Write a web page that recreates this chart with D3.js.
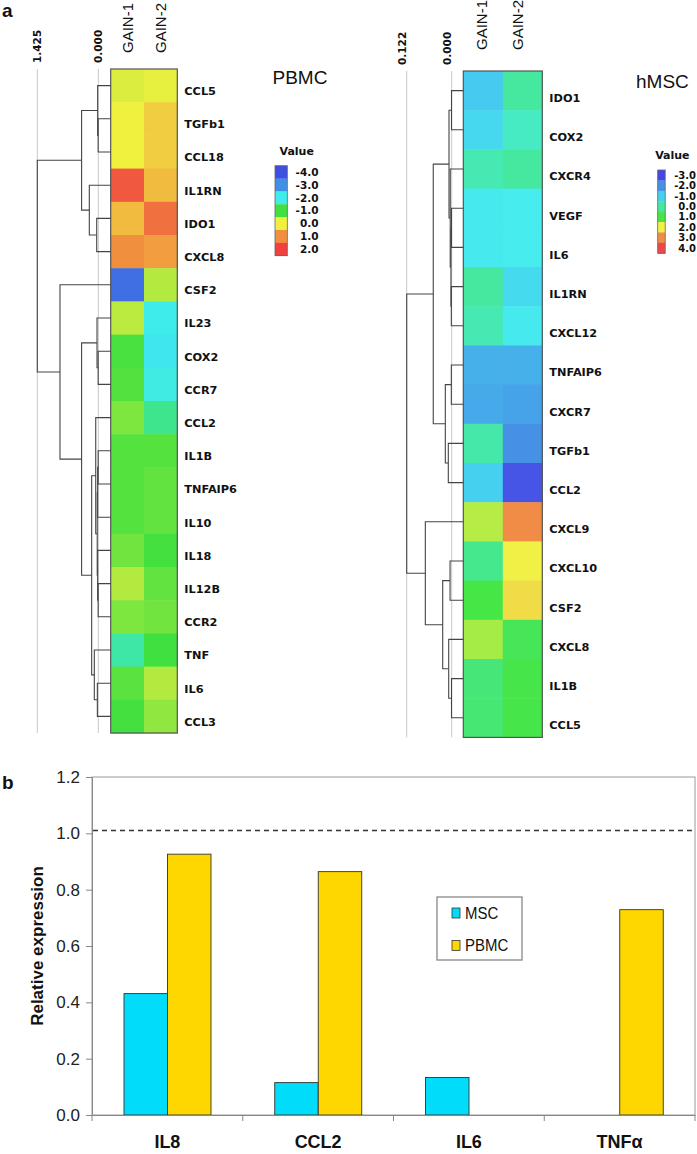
<!DOCTYPE html>
<html><head><meta charset="utf-8">
<script src="https://cdn.jsdelivr.net/npm/d3@7"></script>
<style>body{margin:0;background:#fff} svg{display:block}</style>
</head><body>
<svg id="c" width="697" height="1154"></svg>
<script>
// ---------------- DATA ----------------
const samples = ["GAIN-1", "GAIN-2"];

const pbmcGenes = ["CCL5","TGFb1","CCL18","IL1RN","IDO1","CXCL8","CSF2","IL23","COX2","CCR7","CCL2","IL1B","TNFAIP6","IL10","IL18","IL12B","CCR2","TNF","IL6","CCL3"];
const pbmcGain1 = [-0.12, 0.0, 0.0, 1.7, 0.55, 1.0, -3.5, -0.3, -0.95, -0.9, -0.65, -0.88, -0.88, -0.88, -0.72, -0.35, -0.65, -1.6, -0.85, -0.97];
const pbmcGain2 = [-0.05, 0.35, 0.35, 0.55, 1.4, 0.85, -0.35, -2.0, -2.05, -1.95, -1.45, -0.88, -0.8, -0.8, -0.97, -0.8, -0.72, -1.0, -0.35, -0.55];
const pbmcLegendValues = [-4, -3, -2, -1, 0, 1, 2];
const pbmcDendroTicks = [1.425, 0];
const pbmcTree = [1.425,
  [0.39,
    [0.015, "CCL5", [0.003, "TGFb1", "CCL18"]],
    [0.21, "IL1RN", [0.037, "IDO1", "CXCL8"]]],
  [0.895, "CSF2",
    [0.39,
      [0.03, "IL23", [0.003, "COX2", "CCR7"]],
      [0.155,
        [0.06, "CCL2",
          [0.025,
            [0.015, [0.003, "IL1B", "TNFAIP6"], "IL10"],
            [0.015, "IL18", [0.003, "IL12B", "CCR2"]]]],
        [0.093, "TNF", [0.022, "IL6", "CCL3"]]]]]];

const hmscGenes = ["IDO1","COX2","CXCR4","VEGF","IL6","IL1RN","CXCL12","TNFAIP6","CXCR7","TGFb1","CCL2","CXCL9","CXCL10","CSF2","CXCL8","IL1B","CCL5"];
const hmscGain1 = [-1.1, -0.85, -0.1, -0.5, -0.5, 0.0, -0.1, -1.5, -1.6, -0.05, -1.0, 1.65, 0.2, 1.0, 1.55, 0.45, 0.5];
const hmscGain2 = [0.0, -0.2, 0.0, -0.45, -0.45, -0.8, -0.5, -1.5, -1.7, -2.0, -2.8, 3.0, 2.0, 2.2, 0.8, 0.95, 0.95];
const hmscLegendValues = [-3, -2, -1, 0, 1, 2, 3, 4];
const hmscDendroTicks = [0.122, 0];
const hmscTree = [0.122,
  [0.05,
    [0.0073, [0.0005, "IDO1", "COX2"],
      [0.004, "CXCR4", [0.002, [0.0005, "VEGF", "IL6"], [0.001, "IL1RN", "CXCL12"]]]],
    [0.0173, [0.001, "TNFAIP6", "CXCR7"], [0.0092, "TGFb1", "CCL2"]]],
  [0.0715, "CXCL9",
    [0.0244, [0.0045, "CXCL10", "CSF2"], [0.0081, "CXCL8", [0.0005, "IL1B", "CCL5"]]]]];

const barCategories = ["IL8", "CCL2", "IL6", "TNFα"];
const barSeries = ["MSC", "PBMC"];
const mscValues = [0.431, 0.115, 0.133, null];
const pbmcValues = [0.926, 0.864, null, 0.729];
const yTicks = [0, 0.2, 0.4, 0.6, 0.8, 1.0, 1.2];
const referenceLine = 1.01;

// ---------------- DRAWING ----------------
const svg = d3.select("#c");
const boldFont = "'DejaVu Sans', Verdana, sans-serif";
const sansFont = "'Liberation Sans', Arial, sans-serif";
const loc = d3.formatLocale({ decimal: ".", thousands: ",", grouping: [3], currency: ["", ""], minus: "-" });
const f1 = loc.format(".1f");
const f3 = loc.format(".3f");

function toHier(node) {
  return Array.isArray(node) ? { h: node[0], children: [toHier(node[1]), toHier(node[2])] } : { name: node };
}

function drawPanel(cfg) {
  const g = svg.append("g");
  const y = d3.scaleBand().domain(cfg.genes).range([cfg.top, cfg.bottom]);
  const x = d3.scaleBand().domain(samples).range([cfg.left, cfg.right]);
  const color = d3.scaleLinear().domain(cfg.stops).range(cfg.colors).interpolate(d3.interpolateRgb).clamp(true);
  const hx = d3.scaleLinear().domain([0, cfg.treeMax]).range([cfg.zeroX, cfg.maxX]);

  const cells = [];
  cfg.genes.forEach((gene, i) => {
    cells.push({ gene, s: samples[0], v: cfg.g1[i] });
    cells.push({ gene, s: samples[1], v: cfg.g2[i] });
  });
  g.selectAll("rect.cell").data(cells).join("rect")
    .attr("x", d => x(d.s)).attr("y", d => y(d.gene))
    .attr("width", x.bandwidth() + 0.5).attr("height", y.bandwidth() + 0.5)
    .attr("fill", d => color(d.v));
  g.append("rect").attr("x", cfg.left).attr("y", cfg.top)
    .attr("width", cfg.right - cfg.left).attr("height", cfg.bottom - cfg.top)
    .attr("fill", "none").attr("stroke", "#555").attr("stroke-width", 1.2);

  // row labels
  g.selectAll("text.row").data(cfg.genes).join("text")
    .attr("x", cfg.right + 7).attr("y", d => y(d) + y.bandwidth() * (0.5 + cfg.labelShift))
    .attr("dy", "0.35em").attr("font-family", boldFont).attr("font-weight", "bold")
    .attr("font-size", 11.3).attr("fill", "#111").text(d => d);

  // column labels
  g.selectAll("text.col").data(samples).join("text")
    .attr("transform", d => `translate(${x(d) + x.bandwidth() / 2 + cfg.colShift[samples.indexOf(d)]},${cfg.colLabelY}) rotate(-90)`)
    .attr("dy", "0.35em").attr("font-family", sansFont).attr("font-size", 15).attr("fill", "#111").text(d => d);

  // dendrogram reference lines
  g.selectAll("line.ref").data(cfg.ticks).join("line")
    .attr("x1", d => hx(d)).attr("x2", d => hx(d))
    .attr("y1", cfg.top).attr("y2", cfg.bottom)
    .attr("stroke", "#c8c8c8").attr("stroke-width", 1);
  g.selectAll("text.tick").data(cfg.ticks).join("text")
    .attr("transform", d => `translate(${hx(d) + cfg.tickShift},${cfg.tickLabelY}) rotate(-90)`)
    .attr("dy", "0.35em").attr("font-family", boldFont).attr("font-weight", "bold")
    .attr("font-size", 10.5).attr("fill", "#111").text(d => f3(d));

  // dendrogram
  const root = d3.hierarchy(toHier(cfg.tree));
  root.eachAfter(n => {
    if (!n.children) { n.py = y(n.data.name) + y.bandwidth() / 2; n.px = cfg.left; }
    else { n.py = d3.mean(n.children, c => c.py); n.px = hx(n.data.h); }
  });
  const links = root.descendants().filter(n => n.children);
  g.selectAll("path.dend").data(links).join("path")
    .attr("d", n => {
      const [a, b] = n.children;
      return `M${a.px},${a.py}H${n.px}V${b.py}H${b.px}`;
    })
    .attr("fill", "none").attr("stroke", "#444").attr("stroke-width", 1.1);

  // title
  g.append("text").attr("x", cfg.titleX).attr("y", cfg.titleY)
    .attr("font-family", sansFont).attr("font-size", 19).attr("fill", "#111").text(cfg.title);

  // legend
  const lg = g.append("g");
  lg.append("text").attr("x", cfg.legX + cfg.legTitleDx).attr("y", cfg.legY - 11)
    .attr("font-family", boldFont).attr("font-weight", "bold").attr("font-size", 11)
    .attr("fill", "#111").text("Value");
  const ly = d3.scaleBand().domain(cfg.legend).range([cfg.legY, cfg.legY + cfg.legH]);
  lg.selectAll("rect").data(cfg.legend).join("rect")
    .attr("x", cfg.legX).attr("y", d => ly(d)).attr("width", cfg.legW).attr("height", ly.bandwidth() + 0.3)
    .attr("fill", d => color(d));
  lg.append("rect").attr("x", cfg.legX).attr("y", cfg.legY).attr("width", cfg.legW).attr("height", cfg.legH)
    .attr("fill", "none").attr("stroke", "#666").attr("stroke-width", 0.8);
  lg.selectAll("text.lv").data(cfg.legend).join("text")
    .attr("x", cfg.legLabelX).attr("y", d => ly(d) + ly.bandwidth() / 2).attr("dy", "0.35em")
    .attr("text-anchor", "end").attr("font-family", boldFont).attr("font-weight", "bold")
    .attr("font-size", cfg.legFont).attr("fill", "#111").text(d => f1(d));
}

drawPanel({
  genes: pbmcGenes, g1: pbmcGain1, g2: pbmcGain2, tree: pbmcTree, ticks: pbmcDendroTicks, treeMax: 1.425,
  top: 69, bottom: 733, left: 110.7, right: 177.3, zeroX: 98.3, maxX: 37.3,
  stops: [-4, -3, -2, -1, 0, 1, 2],
  colors: ["#3f4fe0", "#3f8fe6", "#3fecec", "#3fe03f", "#f0f03f", "#f0903f", "#f0403f"],
  legend: pbmcLegendValues, legX: 275, legY: 165.7, legW: 12.3, legH: 90, legLabelX: 318.5, legTitleDx: 4.5, legFont: 10.5,
  labelShift: 0.165, colLabelY: 53, colShift: [0, 0], tickLabelY: 63, tickShift: 0,
  title: "PBMC", titleX: 272.5, titleY: 83.5
});

drawPanel({
  genes: hmscGenes, g1: hmscGain1, g2: hmscGain2, tree: hmscTree, ticks: hmscDendroTicks, treeMax: 0.122,
  top: 71, bottom: 737.4, left: 463.3, right: 542.3, zeroX: 451.7, maxX: 406.7,
  stops: [-3, -2, -1, -0.45, 0, 1, 2, 3, 4],
  colors: ["#4646e6", "#4690e6", "#46d0f0", "#46ecee", "#46e8a0", "#46e646", "#f0f046", "#f08c46", "#f04646"],
  legend: hmscLegendValues, legX: 657.7, legY: 170, legW: 7.5, legH: 83.3, legLabelX: 696, legTitleDx: -2.5, legFont: 10,
  labelShift: 0.19, colLabelY: 50, colShift: [-1, -5], tickLabelY: 65, tickShift: -4.5,
  title: "hMSC", titleX: 636, titleY: 87.5
});

// panel letters
svg.append("text").attr("x", 2).attr("y", 17).attr("font-family", sansFont).attr("font-weight", "bold")
  .attr("font-size", 19).attr("fill", "#111").text("a");
svg.append("text").attr("x", 2).attr("y", 789).attr("font-family", sansFont).attr("font-weight", "bold")
  .attr("font-size", 19).attr("fill", "#111").text("b");

// ---------------- BAR CHART ----------------
const bx = d3.scaleBand().domain(barCategories).range([92, 695]);
const bx1 = d3.scaleBand().domain(barSeries).range([32, 119]);
const by = d3.scaleLinear().domain([0, 1.2]).range([1115, 777]);
const barColor = d3.scaleOrdinal().domain(barSeries).range(["#00dcfa", "#ffd700"]);
const bg = svg.append("g");

bg.append("rect").attr("x", 92).attr("y", by(1.2)).attr("width", 695 - 92).attr("height", by(0) - by(1.2))
  .attr("fill", "none").attr("stroke", "#9a9a9a").attr("stroke-width", 1);

const barData = [];
barCategories.forEach((c, i) => {
  if (mscValues[i] != null) barData.push({ c, s: "MSC", v: mscValues[i] });
  if (pbmcValues[i] != null) barData.push({ c, s: "PBMC", v: pbmcValues[i] });
});
bg.selectAll("rect.bar").data(barData).join("rect")
  .attr("x", d => bx(d.c) + bx1(d.s)).attr("y", d => by(d.v))
  .attr("width", bx1.bandwidth()).attr("height", d => by(0) - by(d.v))
  .attr("fill", d => barColor(d.s)).attr("stroke", "#333").attr("stroke-width", 0.9);

bg.append("line").attr("x1", 93).attr("x2", 694).attr("y1", by(referenceLine)).attr("y2", by(referenceLine))
  .attr("stroke", "#333").attr("stroke-width", 1.6).attr("stroke-dasharray", "5,4");

const yAxis = bg.append("g").attr("transform", "translate(92,0)")
  .call(d3.axisLeft(by).tickValues(yTicks).tickFormat(f1).tickSize(6).tickPadding(6));
yAxis.select(".domain").attr("stroke", "#888");
yAxis.selectAll(".tick line").attr("stroke", "#888");
yAxis.selectAll("text").attr("font-family", sansFont).attr("font-size", 17).attr("fill", "#222");

const xAxis = bg.append("g").attr("transform", `translate(0,${by(0)})`)
  .call(d3.axisBottom(bx).tickSize(0).tickPadding(20));
xAxis.select(".domain").attr("stroke", "#888");
xAxis.selectAll("text").attr("font-family", sansFont).attr("font-weight", "bold").attr("font-size", 18).attr("fill", "#111");
const bounds = barCategories.map(c => bx(c)).concat([bx.range()[1]]);
bg.selectAll("line.xt").data(bounds).join("line")
  .attr("x1", d => d).attr("x2", d => d).attr("y1", by(0)).attr("y2", by(0) + 6)
  .attr("stroke", "#888");

bg.append("text").attr("transform", `translate(37,${(by(0) + by(1.2)) / 2}) rotate(-90)`)
  .attr("text-anchor", "middle").attr("dy", "0.35em").attr("font-family", sansFont).attr("font-weight", "bold")
  .attr("font-size", 17).attr("fill", "#111").text("Relative expression");

// legend
const leg = bg.append("g");
leg.append("rect").attr("x", 437).attr("y", 897).attr("width", 85).attr("height", 63)
  .attr("fill", "#fff").attr("stroke", "#888").attr("stroke-width", 1.3);
const legY = d3.scalePoint().domain(barSeries).range([913, 945.5]);
leg.selectAll("rect.sw").data(barSeries).join("rect")
  .attr("x", 452).attr("y", d => legY(d) - 5).attr("width", 8).attr("height", 10)
  .attr("fill", d => barColor(d)).attr("stroke", "#333").attr("stroke-width", 0.8);
leg.selectAll("text.lt").data(barSeries).join("text")
  .attr("transform", d => `translate(465,${legY(d)}) scale(0.88,1)`).attr("dy", "0.35em")
  .attr("font-family", sansFont).attr("font-size", 17).attr("fill", "#111")
  .text(d => d);
</script>
</body></html>
